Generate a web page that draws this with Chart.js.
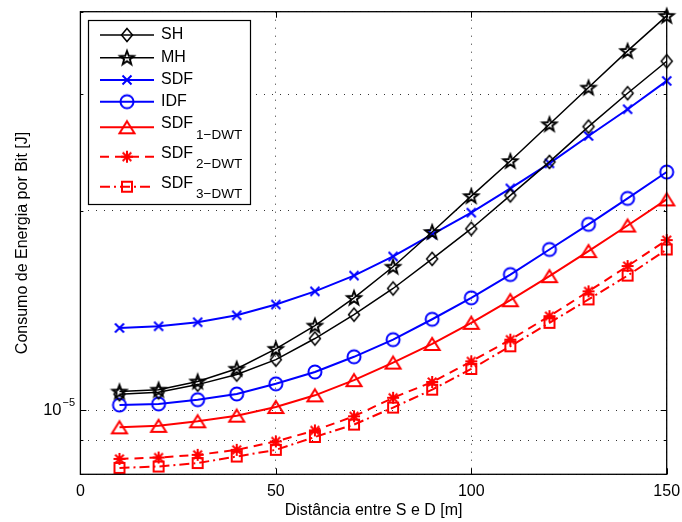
<!DOCTYPE html>
<html>
<head>
<meta charset="utf-8">
<script src="https://cdn.jsdelivr.net/npm/chart.js@4.4.0/dist/chart.umd.min.js"></script>
<style>
  body { margin: 0; background: #fff; }
  canvas { display: block; }
</style>
</head>
<body>
<canvas id="chart" width="682" height="522"></canvas>
<script>
// distance between S and D (m)
const distances = [10, 20, 30, 40, 50, 60, 70, 80, 90, 100, 110, 120, 130, 140, 150];

// energy per bit (J)
const shValues   = [1.057e-5, 1.064e-5, 1.093e-5, 1.132e-5, 1.192e-5, 1.283e-5, 1.394e-5, 1.527e-5, 1.693e-5, 1.880e-5, 2.111e-5, 2.372e-5, 2.682e-5, 3.012e-5, 3.367e-5];
const mhValues   = [1.067e-5, 1.074e-5, 1.105e-5, 1.155e-5, 1.238e-5, 1.342e-5, 1.478e-5, 1.647e-5, 1.859e-5, 2.106e-5, 2.379e-5, 2.704e-5, 3.072e-5, 3.490e-5, 3.943e-5];
const sdfValues  = [1.331e-5, 1.339e-5, 1.358e-5, 1.391e-5, 1.444e-5, 1.512e-5, 1.597e-5, 1.707e-5, 1.843e-5, 1.988e-5, 2.163e-5, 2.360e-5, 2.596e-5, 2.849e-5, 3.144e-5];
const idfValues  = [1.018e-5, 1.022e-5, 1.037e-5, 1.058e-5, 1.096e-5, 1.142e-5, 1.204e-5, 1.278e-5, 1.372e-5, 1.478e-5, 1.603e-5, 1.749e-5, 1.909e-5, 2.089e-5, 2.290e-5];
const sdf1Values = [0.942e-5, 0.947e-5, 0.962e-5, 0.981e-5, 1.011e-5, 1.053e-5, 1.110e-5, 1.180e-5, 1.259e-5, 1.355e-5, 1.466e-5, 1.594e-5, 1.739e-5, 1.901e-5, 2.082e-5];
const sdf2Values = [0.844e-5, 0.848e-5, 0.856e-5, 0.871e-5, 0.897e-5, 0.932e-5, 0.979e-5, 1.044e-5, 1.103e-5, 1.185e-5, 1.278e-5, 1.387e-5, 1.512e-5, 1.651e-5, 1.807e-5];
const sdf3Values = [0.818e-5, 0.822e-5, 0.832e-5, 0.851e-5, 0.871e-5, 0.911e-5, 0.951e-5, 1.009e-5, 1.074e-5, 1.154e-5, 1.249e-5, 1.355e-5, 1.470e-5, 1.597e-5, 1.749e-5];

// legend names (base + subscript)
const seriesNames = ['SH', 'MH', 'SDF', 'IDF', 'SDF', 'SDF', 'SDF'];
const seriesSubs  = ['', '', '', '', '1\u2212DWT', '2\u2212DWT', '3\u2212DWT'];

// axis ticks
const xTicks = [0, 50, 100, 150];
const yTicks = [8e-6, 9e-6, 1e-5, 2e-5, 3e-5, 4e-5];

const FONT = "'Liberation Sans', Arial, Helvetica, sans-serif";
Chart.defaults.font.family = FONT;
Chart.defaults.font.size = 16;
Chart.defaults.color = '#000';

// matlab-like markers drawn on small canvases, used as pointStyle
function makeMarker(kind, color, lw) {
  const c = document.createElement('canvas');
  c.width = 20; c.height = 20;
  const g = c.getContext('2d');
  const m = 10;
  g.strokeStyle = color;
  g.lineWidth = lw;
  g.beginPath();
  if (kind === 'diamond') {
    g.moveTo(m, m - 6.5); g.lineTo(m + 5.5, m); g.lineTo(m, m + 6.5); g.lineTo(m - 5.5, m); g.closePath();
  } else if (kind === 'pentagram') {
    for (let i = 0; i < 10; i++) {
      const r = i % 2 ? 3 : 7.3;
      const a = -Math.PI / 2 + i * Math.PI / 5;
      const px = m + r * Math.cos(a), py = m + 0.5 + r * Math.sin(a);
      if (i) g.lineTo(px, py); else g.moveTo(px, py);
    }
    g.closePath();
    g.lineWidth = 1.9;
  } else if (kind === 'x') {
    g.moveTo(m - 4.5, m - 4.5); g.lineTo(m + 4.5, m + 4.5);
    g.moveTo(m + 4.5, m - 4.5); g.lineTo(m - 4.5, m + 4.5);
  } else if (kind === 'circle') {
    g.arc(m, m, 6.5, 0, 2 * Math.PI);
  } else if (kind === 'triangle') {
    g.moveTo(m, m - 6); g.lineTo(m + 7.5, m + 6); g.lineTo(m - 7.5, m + 6); g.closePath();
  } else if (kind === 'asterisk') {
    g.moveTo(m - 6, m); g.lineTo(m + 6, m);
    g.moveTo(m, m - 6); g.lineTo(m, m + 6);
    g.moveTo(m - 4.3, m - 4.3); g.lineTo(m + 4.3, m + 4.3);
    g.moveTo(m + 4.3, m - 4.3); g.lineTo(m - 4.3, m + 4.3);
  } else if (kind === 'square') {
    g.rect(m - 5, m - 5, 10, 10);
  }
  g.stroke();
  return c;
}

function series(label, data, color, width, marker, dash) {
  return {
    label: label,
    data: data,
    borderColor: color,
    backgroundColor: color,
    borderWidth: width,
    borderDash: dash || [],
    pointStyle: makeMarker(marker, color, width),
    pointRadius: 6,
    fill: false,
    tension: 0,
    clip: false
  };
}

// axes box, inner ticks and the 10^-5 label
const axisBox = {
  id: 'axisBox',
  afterDatasetsDraw(chart) {
    const { ctx, chartArea: a, scales: { x, y } } = chart;
    ctx.save();
    ctx.setLineDash([]);
    ctx.strokeStyle = '#000';
    ctx.lineWidth = 1.3;
    ctx.strokeRect(a.left, a.top, a.right - a.left, a.bottom - a.top);
    ctx.lineWidth = 1;
    ctx.beginPath();
    xTicks.forEach(v => {
      const px = Math.round(x.getPixelForValue(v)) + 0.5;
      ctx.moveTo(px, a.bottom); ctx.lineTo(px, a.bottom - 6);
      ctx.moveTo(px, a.top); ctx.lineTo(px, a.top + 6);
    });
    yTicks.forEach(v => {
      const py = Math.round(y.getPixelForValue(v)) + 0.5;
      const len = v === 1e-5 ? 6 : 3;
      ctx.moveTo(a.left, py); ctx.lineTo(a.left + len, py);
      ctx.moveTo(a.right, py); ctx.lineTo(a.right - len, py);
    });
    ctx.stroke();

    const py = y.getPixelForValue(1e-5);
    ctx.fillStyle = '#000';
    ctx.textBaseline = 'middle';
    ctx.textAlign = 'right';
    ctx.font = '16.5px ' + FONT;
    ctx.fillText('10', 61.5, py + 0.5);
    ctx.textAlign = 'left';
    ctx.font = '11px ' + FONT;
    ctx.fillText('\u22125', 62.5, py - 7);
    ctx.restore();
  }
};

// legend box with subscripts, like the matlab one
const legendRows = [35, 57.7, 80, 101.7, 127.3, 156.7, 186.7];
const legendBox = {
  id: 'legendBox',
  afterDraw(chart) {
    const ctx = chart.ctx;
    ctx.save();
    ctx.fillStyle = '#fff';
    ctx.fillRect(88.5, 20.5, 162, 184);
    ctx.strokeStyle = '#000';
    ctx.lineWidth = 1.2;
    ctx.setLineDash([]);
    ctx.strokeRect(88.5, 20.5, 162, 184);

    chart.data.datasets.forEach((ds, i) => {
      const ly = legendRows[i];
      ctx.strokeStyle = ds.borderColor;
      ctx.lineWidth = ds.borderWidth;
      ctx.setLineDash(ds.borderDash);
      ctx.beginPath();
      ctx.moveTo(100, ly);
      ctx.lineTo(154, ly);
      ctx.stroke();
      ctx.setLineDash([]);
      ctx.drawImage(ds.pointStyle, 127 - 10, ly - 10);

      ctx.fillStyle = '#000';
      ctx.textAlign = 'left';
      ctx.textBaseline = 'middle';
      ctx.font = '16px ' + FONT;
      if (!seriesSubs[i]) {
        ctx.fillText(seriesNames[i], 161, ly);
      } else {
        ctx.fillText(seriesNames[i], 161, ly - 3.5);
        const w = ctx.measureText(seriesNames[i]).width;
        ctx.font = '13.5px ' + FONT;
        ctx.fillText(seriesSubs[i], 161 + w + 3, ly + 8);
      }
    });
    ctx.restore();
  }
};

const config = {
  type: 'line',
  data: {
    labels: distances,
    datasets: [
      series('SH', distances.map((d, i) => ({ x: d, y: shValues[i] })), '#000000', 1.5, 'diamond'),
      series('MH', distances.map((d, i) => ({ x: d, y: mhValues[i] })), '#000000', 1.5, 'pentagram'),
      series('SDF', distances.map((d, i) => ({ x: d, y: sdfValues[i] })), '#0000ff', 2, 'x'),
      series('IDF', distances.map((d, i) => ({ x: d, y: idfValues[i] })), '#0000ff', 2, 'circle'),
      series('SDF1-DWT', distances.map((d, i) => ({ x: d, y: sdf1Values[i] })), '#ff0000', 2, 'triangle'),
      series('SDF2-DWT', distances.map((d, i) => ({ x: d, y: sdf2Values[i] })), '#ff0000', 2, 'asterisk', [9, 6]),
      series('SDF3-DWT', distances.map((d, i) => ({ x: d, y: sdf3Values[i] })), '#ff0000', 2, 'square', [10, 4, 2, 4])
    ]
  },
  options: {
    responsive: false,
    animation: false,
    devicePixelRatio: 1,
    layout: { padding: { left: 0, right: 15.3, top: 11.7, bottom: 0 } },
    plugins: {
      legend: { display: false },
      tooltip: { enabled: false }
    },
    scales: {
      x: {
        type: 'linear',
        min: 0,
        max: 150,
        afterBuildTicks: (scale) => { scale.ticks = xTicks.map(v => ({ value: v })); },
        afterFit: (scale) => {
          scale.height = 47.7;
          scale.paddingLeft = 0;
          scale.paddingRight = 0;
        },
        ticks: { padding: 8, font: { size: 16 }, color: '#000' },
        grid: { color: '#333', lineWidth: 1, drawTicks: false },
        border: { display: false, dash: [1, 7] },
        title: { display: true, text: 'Distância entre S e D [m]', font: { size: 16 }, color: '#000', padding: { top: 0, bottom: 2 } }
      },
      y: {
        type: 'logarithmic',
        min: 8e-6,
        max: 4e-5,
        afterBuildTicks: (scale) => { scale.ticks = yTicks.map(v => ({ value: v })); },
        afterFit: (scale) => {
          scale.width = 80.4;
          scale.paddingTop = 0;
          scale.paddingBottom = 0;
        },
        ticks: { display: false },
        grid: { color: '#333', lineWidth: 1, drawTicks: false },
        border: { display: false, dash: [1, 7] },
        title: { display: true, text: 'Consumo de Energia por Bit [J]', font: { size: 16 }, color: '#000', padding: { top: 13, bottom: 0 } }
      }
    }
  },
  plugins: [axisBox, legendBox]
};

const energyChart = new Chart(document.getElementById('chart'), config);
</script>
</body>
</html>
